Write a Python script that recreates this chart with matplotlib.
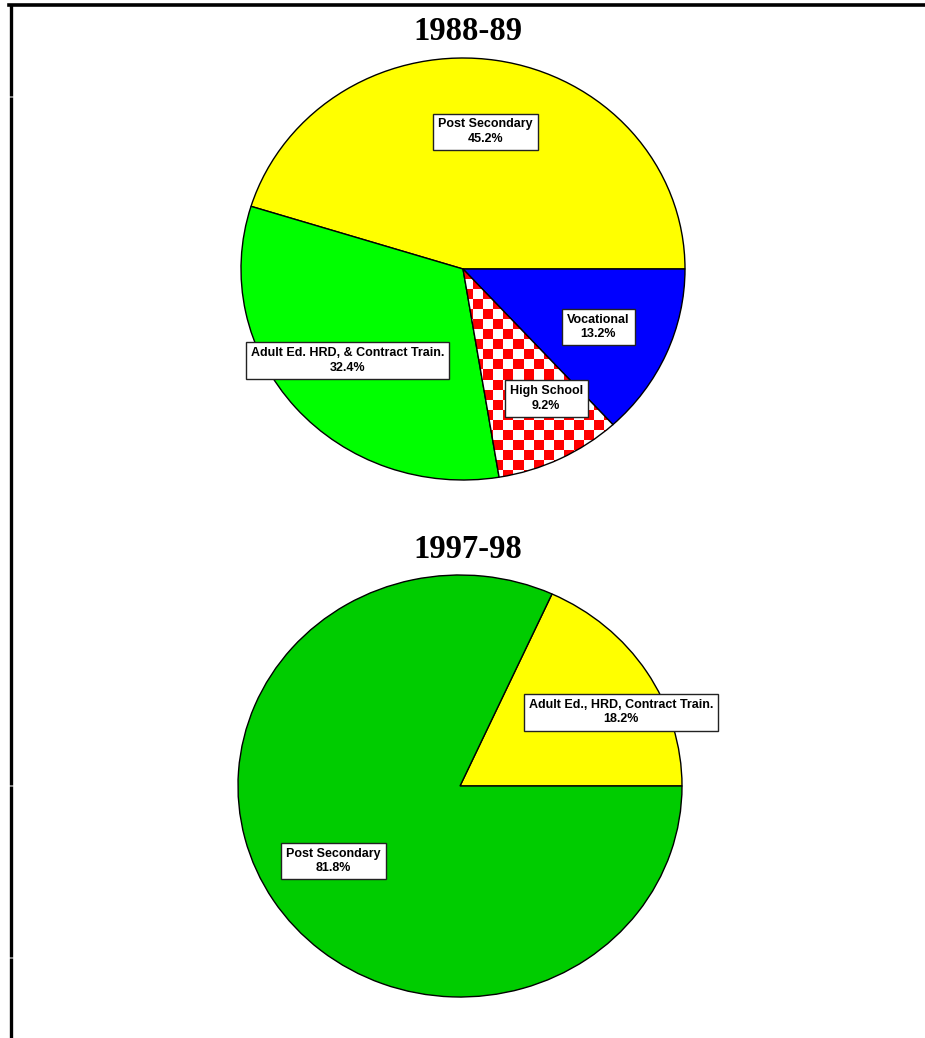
import numpy as np
import matplotlib
matplotlib.use("Agg")
import matplotlib.pyplot as plt
from matplotlib.colors import ListedColormap
from matplotlib.lines import Line2D

# data
titles = ["1988-89", "1997-98"]

labels_8889 = ["Post Secondary", "Adult Ed. HRD, & Contract Train.", "High School", "Vocational"]
values_8889 = [45.2, 32.4, 9.2, 13.2]

labels_9798 = ["Adult Ed., HRD, Contract Train.", "Post Secondary"]
values_9798 = [18.2, 81.8]

# styles / layout
colors_8889 = ["#FFFF00", "#00FF00", "checker", "#0000FF"]
colors_9798 = ["#FFFF00", "#00CC00"]
# label box centres, in pie data coords (radius 1)
label_pos_8889 = [(0.10, 0.65), (-0.52, -0.435), (0.375, -0.615), (0.61, -0.275)]
label_pos_9798 = [(0.725, 0.35), (-0.57, -0.355)]

W, H = 925, 1038
fig = plt.figure(figsize=(W / 100, H / 100), dpi=100)


def px_axes(cx, cy, rx, ry):
    return fig.add_axes([(cx - rx) / W, (H - cy - ry) / H, 2 * rx / W, 2 * ry / H])


def draw_pie(ax, values, labels, colors, label_pos):
    face = ["white" if c == "checker" else c for c in colors]
    wedges, _ = ax.pie(values, colors=face, startangle=0, counterclock=True, radius=1,
                       wedgeprops=dict(edgecolor="black", linewidth=1.0))
    ax.set_aspect("auto")
    ax.set_xlim(-1, 1)
    ax.set_ylim(-1, 1)
    ax.axis("off")

    for w, c in zip(wedges, colors):
        if c == "checker":
            nx, ny = 44, 42
            board = np.indices((ny, nx)).sum(axis=0) % 2
            im = ax.imshow(board, extent=(-1, 1, -1, 1), cmap=ListedColormap(["white", "#FF0000"]),
                           interpolation="nearest", aspect="auto", zorder=w.get_zorder() + 0.1)
            im.set_clip_path(w)
            w.set_facecolor("none")
            w.set_zorder(w.get_zorder() + 0.2)

    for lab, v, (x, y) in zip(labels, values, label_pos):
        ax.text(x, y, f"{lab}\n{v:.1f}%", ha="center", va="center", multialignment="center",
                fontsize=9, fontweight="bold", family="Liberation Sans", linespacing=1.3,
                zorder=10,
                bbox=dict(boxstyle="square,pad=0.4", facecolor="white", edgecolor="#222222",
                          linewidth=1.0))


ax1 = px_axes(463, 269, 222, 211)
draw_pie(ax1, values_8889, labels_8889, colors_8889, label_pos_8889)

ax2 = px_axes(460, 786, 222, 211)
draw_pie(ax2, values_9798, labels_9798, colors_9798, label_pos_9798)

# titles
for t, y in zip(titles, [31, 550]):
    fig.text(468 / W, 1 - y / H, t, ha="center", va="center", fontsize=23.5,
             fontweight="bold", family="Liberation Serif")

# frame lines (top and left)
fig.add_artist(Line2D([9 / W, 1], [1 - 4.5 / H, 1 - 4.5 / H], color="black", linewidth=2.6,
                      transform=fig.transFigure))
breaks = [3, 96, 785, 957, 1038]
for y0, y1 in zip(breaks[:-1], breaks[1:]):
    fig.add_artist(Line2D([10.5 / W, 10.5 / W], [1 - (y0 + 0.5) / H, 1 - (y1 - 0.5) / H],
                          color="black", linewidth=2.4, solid_capstyle="butt",
                          transform=fig.transFigure))

fig.savefig("out.png", dpi=100, facecolor="white")
